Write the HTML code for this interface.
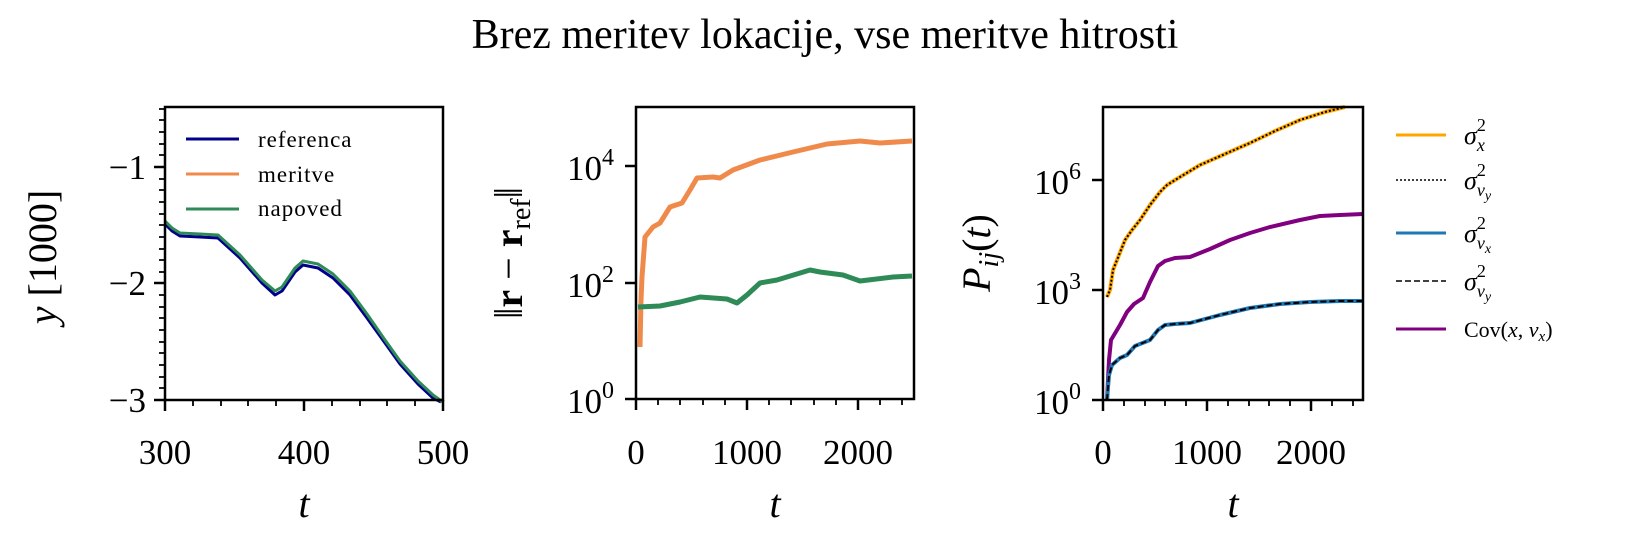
<!DOCTYPE html>
<html><head><meta charset="utf-8"><style>
html,body{margin:0;padding:0;background:#fff}
svg{display:block;font-family:"Liberation Serif",serif}
</style></head><body>
<svg width="1650" height="540" viewBox="0 0 1650 540" xmlns="http://www.w3.org/2000/svg">
<text x="825" y="48" font-size="42" text-anchor="middle">Brez meritev lokacije, vse meritve hitrosti</text>

<!-- Panel 1 -->
<g fill="none" stroke-linejoin="round">
<polyline stroke="#00008b" stroke-width="3" points="165,224 172,231 180,236 200,237 218,238 240,258 262,283 275,295 282,291 295,272 303,265 318,268 333,278 350,295 367,318 385,343 400,364 418,384 433,398 441,402"/>
<polyline stroke="#2e8b57" stroke-width="3" points="165,221 172,228 180,233 200,234 218,235 240,255 262,280 275,291 282,287 295,268 303,261 318,264 333,274 350,291 367,314 385,340 400,361 418,381 433,395 443,402"/>
</g>
<rect x="165" y="107" width="278" height="293" fill="none" stroke="#000" stroke-width="2.5"/>
<g stroke="#000" stroke-width="2.5">
<line x1="165" y1="400" x2="165" y2="411"/><line x1="304" y1="400" x2="304" y2="411"/><line x1="443" y1="400" x2="443" y2="411"/>
<line x1="165" y1="167" x2="154" y2="167"/><line x1="165" y1="283" x2="154" y2="283"/><line x1="165" y1="400" x2="154" y2="400"/>
</g>
<g stroke="#000" stroke-width="1.8">
<line x1="193" y1="400" x2="193" y2="406"/><line x1="221" y1="400" x2="221" y2="406"/><line x1="248" y1="400" x2="248" y2="406"/><line x1="276" y1="400" x2="276" y2="406"/><line x1="332" y1="400" x2="332" y2="406"/><line x1="360" y1="400" x2="360" y2="406"/><line x1="387" y1="400" x2="387" y2="406"/><line x1="415" y1="400" x2="415" y2="406"/>
<path d="M165 109h-6M165 120h-6M165 132h-6M165 144h-6M165 155h-6M165 179h-6M165 190h-6M165 202h-6M165 214h-6M165 225h-6M165 237h-6M165 249h-6M165 260h-6M165 272h-6M165 295h-6M165 307h-6M165 318h-6M165 330h-6M165 342h-6M165 353h-6M165 365h-6M165 377h-6M165 388h-6"/>
</g>
<g font-size="35" text-anchor="end">
<text x="146" y="179">−1</text><text x="146" y="295">−2</text><text x="146" y="412">−3</text>
</g>
<g font-size="35" text-anchor="middle">
<text x="165" y="464">300</text><text x="304" y="464">400</text><text x="443" y="464">500</text>
<text x="304" y="517" font-size="40" font-style="italic">t</text>
</g>
<text transform="translate(56,257) rotate(-90)" font-size="40" text-anchor="middle"><tspan font-style="italic">y</tspan> [1000]</text>
<g stroke-width="3">
<line x1="186" y1="139" x2="239" y2="139" stroke="#00008b"/>
<line x1="186" y1="174" x2="239" y2="174" stroke="#f08a4b"/>
<line x1="186" y1="209" x2="239" y2="209" stroke="#2e8b57"/>
</g>
<g font-size="23" letter-spacing="1"><text x="258" y="147">referenca</text><text x="258" y="182">meritve</text><text x="258" y="216">napoved</text></g>

<!-- Panel 2 -->
<g fill="none" stroke-linejoin="round" stroke-width="5">
<polyline stroke="#f08a4b" points="640,347 641,300 642,277 645,237 653,227 660,223 670,207 682,203 690,190 697,178 713,177 720,178 733,170 760,160 793,152 827,144 860,141 880,143 912,141"/>
<polyline stroke="#2e8b57" points="638,307 660,306 680,302 700,297 727,299 737,303 747,295 760,283 777,280 810,270 820,272 843,275 860,281 893,277 912,276"/>
</g>
<rect x="636" y="107" width="278" height="292" fill="none" stroke="#000" stroke-width="2.5"/>
<g stroke="#000" stroke-width="2.5">
<line x1="636" y1="399" x2="636" y2="410"/><line x1="747" y1="399" x2="747" y2="410"/><line x1="858" y1="399" x2="858" y2="410"/>
<line x1="636" y1="166" x2="625" y2="166"/><line x1="636" y1="283" x2="625" y2="283"/><line x1="636" y1="399" x2="625" y2="399"/>
</g>
<g stroke="#000" stroke-width="1.8">
<path d="M658 399v6M680 399v6M703 399v6M725 399v6M769 399v6M791 399v6M814 399v6M836 399v6M880 399v6M902 399v6"/>
</g>
<g font-size="35" text-anchor="end">
<text x="614" y="180">10<tspan font-size="24" dy="-15">4</tspan></text>
<text x="614" y="297">10<tspan font-size="24" dy="-15">2</tspan></text>
<text x="614" y="413">10<tspan font-size="24" dy="-15">0</tspan></text>
</g>
<g font-size="35" text-anchor="middle">
<text x="636" y="464">0</text><text x="747" y="464">1000</text><text x="858" y="464">2000</text>
<text x="775" y="517" font-size="40" font-style="italic">t</text>
</g>
<text transform="translate(522,253) rotate(-90)" font-size="40" text-anchor="middle">‖<tspan font-weight="bold">r</tspan> − <tspan font-weight="bold">r</tspan><tspan font-size="28" dy="8">ref</tspan><tspan dy="-8">‖</tspan></text>

<!-- Panel 3 -->
<g fill="none" stroke-linejoin="round">
<polyline stroke="#ffa500" stroke-width="4" points="1107,297 1110,290 1113,270 1119,255 1125,240 1132,230 1140,220 1150,205 1160,192 1167,185 1180,177 1200,165 1225,154 1250,143 1275,131 1300,120 1325,112 1345,107"/>
<polyline stroke="#000" stroke-width="2" stroke-dasharray="2,2" points="1107,297 1110,290 1113,270 1119,255 1125,240 1132,230 1140,220 1150,205 1160,192 1167,185 1180,177 1200,165 1225,154 1250,143 1275,131 1300,120 1325,112 1345,107"/>
<polyline stroke="#800080" stroke-width="4" points="1107,400 1109,360 1111,340 1120,325 1127,312 1134,304 1143,298 1150,282 1158,266 1165,261 1175,258 1190,257 1210,249 1230,240 1250,233 1270,227 1300,220 1320,216 1340,215 1363,214"/>
<polyline stroke="#1f77b4" stroke-width="4" points="1107,400 1109,375 1112,365 1120,358 1127,355 1135,346 1145,342 1150,340 1158,330 1165,325 1175,324 1190,323 1220,315 1250,308 1280,304 1310,302 1340,301 1363,301"/>
<polyline stroke="#000" stroke-width="2" stroke-dasharray="6,3" points="1107,400 1109,375 1112,365 1120,358 1127,355 1135,346 1145,342 1150,340 1158,330 1165,325 1175,324 1190,323 1220,315 1250,308 1280,304 1310,302 1340,301 1363,301"/>
</g>
<rect x="1103" y="107" width="260" height="293" fill="none" stroke="#000" stroke-width="2.5"/>
<g stroke="#000" stroke-width="2.5">
<line x1="1103" y1="400" x2="1103" y2="411"/><line x1="1207" y1="400" x2="1207" y2="411"/><line x1="1311" y1="400" x2="1311" y2="411"/>
<line x1="1103" y1="180" x2="1092" y2="180"/><line x1="1103" y1="290" x2="1092" y2="290"/><line x1="1103" y1="400" x2="1092" y2="400"/>
</g>
<g stroke="#000" stroke-width="1.8">
<path d="M1124 400v6M1145 400v6M1165 400v6M1186 400v6M1228 400v6M1249 400v6M1269 400v6M1290 400v6M1332 400v6M1353 400v6"/>
</g>
<g font-size="35" text-anchor="end">
<text x="1081" y="194">10<tspan font-size="24" dy="-15">6</tspan></text>
<text x="1081" y="304">10<tspan font-size="24" dy="-15">3</tspan></text>
<text x="1081" y="414">10<tspan font-size="24" dy="-15">0</tspan></text>
</g>
<g font-size="35" text-anchor="middle">
<text x="1103" y="464">0</text><text x="1207" y="464">1000</text><text x="1311" y="464">2000</text>
<text x="1233" y="517" font-size="40" font-style="italic">t</text>
</g>
<text transform="translate(990,253) rotate(-90)" font-size="40" text-anchor="middle"><tspan font-style="italic">P</tspan><tspan font-size="28" dy="8" font-style="italic">ij</tspan><tspan dy="-8">(</tspan><tspan font-style="italic">t</tspan>)</text>

<!-- Legend 3 -->
<line x1="1396" y1="135" x2="1446" y2="135" stroke="#ffa500" stroke-width="3"/>
<line x1="1396" y1="180" x2="1446" y2="180" stroke="#000" stroke-width="1.5" stroke-dasharray="2,2"/>
<line x1="1396" y1="233" x2="1446" y2="233" stroke="#1f77b4" stroke-width="3"/>
<line x1="1396" y1="281" x2="1446" y2="281" stroke="#000" stroke-width="1.5" stroke-dasharray="6,3"/>
<line x1="1396" y1="329" x2="1446" y2="329" stroke="#800080" stroke-width="3"/>
<g font-size="26" font-style="italic">
<text x="1464" y="144">σ<tspan font-size="18" font-style="normal" dy="-13">2</tspan><tspan font-size="18" dx="-9" dy="20">x</tspan></text>
<text x="1464" y="189">σ<tspan font-size="18" font-style="normal" dy="-13">2</tspan><tspan font-size="18" dx="-9" dy="20">v</tspan><tspan font-size="14" dy="4">y</tspan></text>
<text x="1464" y="242">σ<tspan font-size="18" font-style="normal" dy="-13">2</tspan><tspan font-size="18" dx="-9" dy="20">v</tspan><tspan font-size="14" dy="4">x</tspan></text>
<text x="1464" y="290">σ<tspan font-size="18" font-style="normal" dy="-13">2</tspan><tspan font-size="18" dx="-9" dy="20">v</tspan><tspan font-size="14" dy="4">y</tspan></text>
<text x="1464" y="337" font-style="normal" font-size="22">Cov(<tspan font-style="italic">x</tspan>, <tspan font-style="italic">v</tspan><tspan font-size="15" font-style="italic" dy="4">x</tspan><tspan dy="-4">)</tspan></text>
</g>
</svg>
</body></html>
